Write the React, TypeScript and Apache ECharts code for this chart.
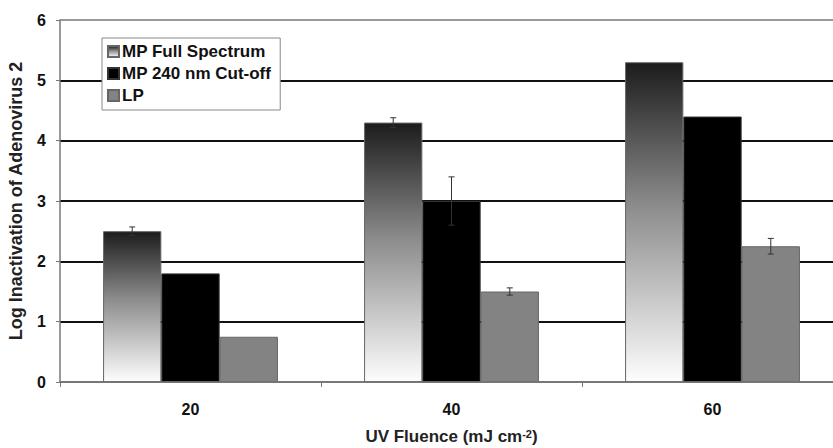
import React, { useEffect, useRef } from "react";
import * as echarts from "echarts";

const categories = ["20", "40", "60"];
const seriesNames = ["MP Full Spectrum", "MP 240 nm Cut-off", "LP"];
const mpFull = [2.5, 4.3, 5.3];
const mpCut = [1.8, 3.0, 4.4];
const lp = [0.75, 1.5, 2.25];
const mpFullErr = [0.07, 0.08, 0];
const mpCutErr = [0, 0.4, 0];
const lpErr = [0, 0.06, 0.13];
const yTicks = [0, 1, 2, 3, 4, 5, 6];

const FONT = "'Liberation Sans', Arial, sans-serif";
const GAP = 0.33;

export default function App() {
  const ref = useRef<HTMLDivElement>(null);
  useEffect(() => {
    const chart = echarts.init(ref.current!, null, { renderer: "svg" });
    const values = [mpFull, mpCut, lp];
    const errs = [mpFullErr, mpCutErr, lpErr];
    const errData: number[][] = [];
    errs.forEach((arr, si) =>
      arr.forEach((e, ci) => {
        if (e > 0) errData.push([ci, values[si][ci] - e, values[si][ci] + e, si]);
      })
    );
    const barBase = {
      type: "bar" as const,
      barGap: "0%",
      barCategoryGap: GAP * 100 + "%",
      z: 3,
    };
    chart.setOption({
      animation: false,
      backgroundColor: "#fff",
      textStyle: { fontFamily: FONT },
      grid: { left: 60, right: -10, top: 20, bottom: 66, outerBoundsMode: "none", containLabel: false },
      legend: {
        orient: "vertical",
        left: 102,
        top: 38,
        padding: [5, 9, 6, 5],
        itemGap: 5,
        itemWidth: 11,
        itemHeight: 11,
        backgroundColor: "#fff",
        borderColor: "#888",
        borderWidth: 1,
        icon: "rect",
        data: seriesNames,
        textStyle: { fontFamily: FONT, fontWeight: "bold", fontSize: 17, color: "#111", padding: [0, 0, 0, -2] },
      },
      xAxis: {
        type: "category",
        data: categories,
        name: "UV Fluence (mJ cm{sup|-2})",
        nameLocation: "middle",
        nameGap: 46,
        nameTextStyle: {
          fontFamily: FONT,
          fontWeight: "bold",
          fontSize: 17,
          lineHeight: 17,
          color: "#222",
          rich: { sup: { fontFamily: FONT, fontWeight: "bold", fontSize: 11, lineHeight: 17, color: "#222", verticalAlign: "top" } },
        },
        axisLine: { show: true, lineStyle: { color: "#777", width: 1.5 } },
        axisTick: { show: true, length: 5, lineStyle: { color: "#777" } },
        axisLabel: { fontFamily: FONT, fontWeight: "bold", fontSize: 16, color: "#111", margin: 19 },
        z: 5,
      },
      yAxis: {
        type: "value",
        min: yTicks[0],
        max: yTicks[yTicks.length - 1],
        interval: 1,
        name: "Log Inactivation of Adenovirus 2",
        nameLocation: "middle",
        nameGap: 35,
        nameTextStyle: { fontFamily: FONT, fontWeight: "bold", fontSize: 18, color: "#222" },
        axisLine: { show: true, lineStyle: { color: "#777", width: 1.5 } },
        axisTick: { show: true, length: 4, lineStyle: { color: "#777" } },
        axisLabel: { fontFamily: FONT, fontWeight: "bold", fontSize: 16, color: "#111", margin: 14 },
        splitLine: {
          show: true,
          lineStyle: { color: ["#777", "#111", "#111", "#111", "#111", "#111", "#999"], width: 2 },
        },
      },
      series: [
        {
          ...barBase,
          name: seriesNames[0],
          data: mpFull,
          itemStyle: {
            color: new echarts.graphic.LinearGradient(0, 0, 0, 1, [
              { offset: 0, color: "#1c1c1c" },
              { offset: 0.45, color: "#8c8c8c" },
              { offset: 1, color: "#fdfdfd" },
            ]),
            borderColor: "#666",
            borderWidth: 1,
          },
        },
        {
          ...barBase,
          name: seriesNames[1],
          data: mpCut,
          itemStyle: { color: "#000", borderColor: "#333", borderWidth: 1 },
        },
        {
          ...barBase,
          name: seriesNames[2],
          data: lp,
          itemStyle: { color: "#838383", borderColor: "#666", borderWidth: 1 },
        },
        {
          type: "custom",
          z: 10,
          silent: true,
          data: errData,
          renderItem: (params: any, api: any) => {
            const ci = api.value(0);
            const lo = api.value(1);
            const hi = api.value(2);
            const si = api.value(3);
            const band = api.size([1, 0])[0];
            const bw = (band * (1 - GAP)) / 3;
            const pLo = api.coord([ci, lo]);
            const pHi = api.coord([ci, hi]);
            const x = pLo[0] + (si - 1) * bw;
            const cap = 3;
            const style = { stroke: "#333", lineWidth: 1 };
            return {
              type: "group",
              children: [
                { type: "line", shape: { x1: x, y1: pLo[1], x2: x, y2: pHi[1] }, style },
                { type: "line", shape: { x1: x - cap, y1: pHi[1], x2: x + cap, y2: pHi[1] }, style },
                { type: "line", shape: { x1: x - cap, y1: pLo[1], x2: x + cap, y2: pLo[1] }, style },
              ],
            };
          },
        },
      ],
    });
    return () => chart.dispose();
  }, []);
  return (
    <div
      ref={ref}
      style={{ position: "fixed", left: 0, top: 0, width: 833, height: 448 }}
    />
  );
}
